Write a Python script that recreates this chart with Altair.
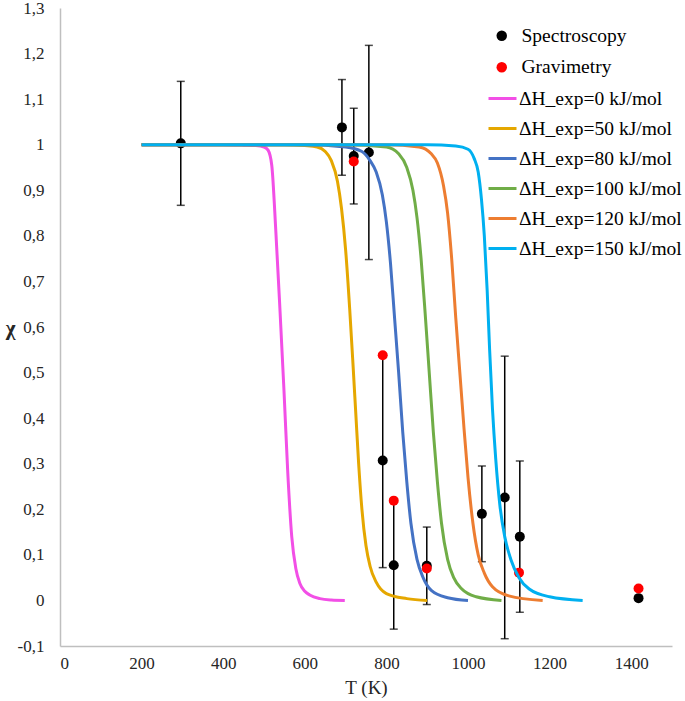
import altair as alt
import pandas as pd

# ---------------- data ----------------
spec_x = [296, 691, 720, 757, 791, 818, 899, 1034, 1090, 1127, 1418]
spec_y = [1.003, 1.038, 0.975, 0.983, 0.307, 0.077, 0.076, 0.19, 0.226, 0.14, 0.005]
spec_err = [0.136, 0.105, 0.105, 0.235, 0.235, 0.14, 0.085, 0.105, 0.31, 0.166, 0.0]

grav_x = [720, 791, 818, 899, 1125, 1418]
grav_y = [0.963, 0.538, 0.219, 0.07, 0.061, 0.026]

curve_names = ["ΔH_exp=0 kJ/mol", "ΔH_exp=50 kJ/mol", "ΔH_exp=80 kJ/mol",
               "ΔH_exp=100 kJ/mol", "ΔH_exp=120 kJ/mol", "ΔH_exp=150 kJ/mol"]
curve_colors = ["#F24FE6", "#E5A700", "#4472C4", "#70AD47", "#ED7D31", "#00B0F0"]

pink_x = [200, 300, 400, 450, 480, 500, 510, 519, 529, 539, 549, 558, 568, 578, 588, 600, 612, 637, 665, 698]
pink_y = [1.0, 1.0, 1.0, 0.999, 0.998, 0.995, 0.988, 0.955, 0.81, 0.64, 0.46, 0.285, 0.14, 0.07, 0.037, 0.02, 0.012, 0.004, 0.001, 0.0]

yellow_x = [200, 400, 550, 600, 630, 650, 665, 680, 690, 700, 710, 718, 725, 732, 740, 750, 760, 775, 800, 850, 900]
yellow_y = [1.0, 1.0, 1.0, 0.998, 0.995, 0.985, 0.965, 0.92, 0.86, 0.77, 0.64, 0.52, 0.41, 0.30, 0.20, 0.12, 0.075, 0.04, 0.015, 0.004, 0.0]

blue_x = [200, 400, 600, 700, 740, 760, 775, 790, 800, 810, 820, 830, 840, 850, 860, 875, 890, 910, 950, 1000]
blue_y = [1.0, 1.0, 1.0, 0.995, 0.985, 0.965, 0.94, 0.89, 0.83, 0.74, 0.62, 0.5, 0.37, 0.26, 0.17, 0.09, 0.05, 0.022, 0.006, 0.0]

green_x = [200, 400, 700, 800, 830, 850, 865, 875, 885, 895, 905, 915, 925, 935, 950, 965, 985, 1020, 1082]
green_y = [1.0, 1.0, 1.0, 0.995, 0.98, 0.95, 0.9, 0.84, 0.75, 0.63, 0.5, 0.37, 0.26, 0.17, 0.09, 0.05, 0.025, 0.008, 0.0]

orange_x = [200, 400, 800, 880, 910, 925, 940, 950, 960, 970, 980, 990, 1000, 1012, 1025, 1040, 1060, 1100, 1183]
orange_y = [1.0, 1.0, 1.0, 0.995, 0.98, 0.96, 0.91, 0.85, 0.75, 0.62, 0.5, 0.38, 0.27, 0.17, 0.1, 0.06, 0.03, 0.01, 0.0]

cyan_x = [200, 400, 900, 970, 1000, 1015, 1025, 1033, 1040, 1047, 1053, 1060, 1068, 1078, 1090, 1105, 1125, 1150, 1200, 1281]
cyan_y = [1.0, 1.0, 1.0, 0.997, 0.99, 0.97, 0.94, 0.88, 0.8, 0.68, 0.55, 0.42, 0.31, 0.21, 0.14, 0.09, 0.05, 0.025, 0.008, 0.0]

x_ticks = [0, 200, 400, 600, 800, 1000, 1200, 1400]
y_ticks = [-0.1, 0, 0.1, 0.2, 0.3, 0.4, 0.5, 0.6, 0.7, 0.8, 0.9, 1.0, 1.1, 1.2, 1.3]

# ---------------- tables ----------------
curves_xy = [(pink_x, pink_y), (yellow_x, yellow_y), (blue_x, blue_y),
             (green_x, green_y), (orange_x, orange_y), (cyan_x, cyan_y)]
rows = []
for name, (xs, ys) in zip(curve_names, curves_xy):
    for xv, yv in zip(xs, ys):
        rows.append({"T": xv, "chi": yv, "curve": name})
curves_df = pd.DataFrame(rows)

spec_df = pd.DataFrame({"T": spec_x, "chi": spec_y, "err": spec_err})
spec_df["lo"] = spec_df["chi"] - spec_df["err"]
spec_df["hi"] = spec_df["chi"] + spec_df["err"]
spec_df["series"] = "Spectroscopy"
err_df = spec_df[spec_df["err"] > 0]

grav_df = pd.DataFrame({"T": grav_x, "chi": grav_y})
grav_df["series"] = "Gravimetry"
pts_df = pd.concat([spec_df[["T", "chi", "series"]], grav_df], ignore_index=True)

FONT = "Liberation Serif"

x_scale = alt.Scale(domain=[0, 1500], nice=False, zero=False)
y_scale = alt.Scale(domain=[-0.1, 1.3], nice=False, zero=False)

x_axis = alt.Axis(values=x_ticks, grid=False, ticks=False, domainColor="#BFBFBF",
                  domainWidth=1.5, labelFont=FONT, labelFontSize=17, labelColor="#262626",
                  labelExpr="format(datum.value, 'd')",
                  labelPadding=9, title="T (K)", titleFont=FONT, titleFontSize=19,
                  titleFontWeight="normal", titleColor="#262626", titlePadding=7)
y_axis = alt.Axis(values=y_ticks, grid=False, ticks=False, domainColor="#BFBFBF",
                  domainWidth=1.5, labelFont=FONT, labelFontSize=17, labelColor="#262626",
                  labelPadding=16,
                  labelExpr="replace(replace(format(datum.value, '.1~f'), '.', ','), '\u2212', '-')",
                  title="χ", titleFont=FONT, titleFontSize=21, titleFontWeight="bold",
                  titleColor="#262626", titleAngle=0, titleX=-50, titleY=320,
                  titleAlign="center", titleBaseline="middle")

bars = alt.Chart(err_df).mark_rule(color="black", strokeWidth=1.5).encode(
    x=alt.X("T:Q", scale=x_scale, axis=x_axis),
    y=alt.Y("lo:Q", scale=y_scale, axis=y_axis),
    y2="hi:Q",
)
cap_hi = alt.Chart(err_df).mark_tick(color="black", orient="horizontal", size=8, thickness=1.5).encode(
    x="T:Q", y="hi:Q")
cap_lo = alt.Chart(err_df).mark_tick(color="black", orient="horizontal", size=8, thickness=1.5).encode(
    x="T:Q", y="lo:Q")

points = alt.Chart(pts_df).mark_circle(size=100, opacity=1).encode(
    x="T:Q",
    y="chi:Q",
    color=alt.Color("series:N",
                    scale=alt.Scale(domain=["Spectroscopy", "Gravimetry"], range=["#000000", "#FF0000"]),
                    title=None,
                    legend=alt.Legend(orient="none", legendX=432, legendY=18, symbolSize=110,
                                      symbolType="circle", labelFont=FONT, labelFontSize=19.5,
                                      labelColor="#000000", labelOffset=10, rowPadding=10.5,
                                      labelLimit=300, padding=0)),
)

lines = alt.Chart(curves_df).mark_line(strokeWidth=3, interpolate="monotone").encode(
    x="T:Q",
    y="chi:Q",
    color=alt.Color("curve:N",
                    scale=alt.Scale(domain=curve_names, range=curve_colors),
                    sort=curve_names,
                    title=None,
                    legend=alt.Legend(orient="none", legendX=427, legendY=75, symbolType="stroke",
                                      symbolSize=784, symbolStrokeWidth=3, labelFont=FONT,
                                      labelFontSize=19.5, labelColor="#000000", labelOffset=1,
                                      rowPadding=5, labelLimit=300, padding=0)),
)

chart = alt.layer(bars, cap_hi, cap_lo, points, lines).resolve_scale(
    color="independent"
).properties(
    width=612, height=638,
    autosize=alt.AutoSizeParams(type="none"),
    padding={"left": 60, "top": 8, "right": 13, "bottom": 55},
).configure(font=FONT).configure_axis(
    labelFont=FONT, titleFont=FONT
).configure_legend(
    labelFont=FONT
).configure_view(stroke=None)

chart.save("out.html", embed_options={"renderer": "svg", "actions": False})
